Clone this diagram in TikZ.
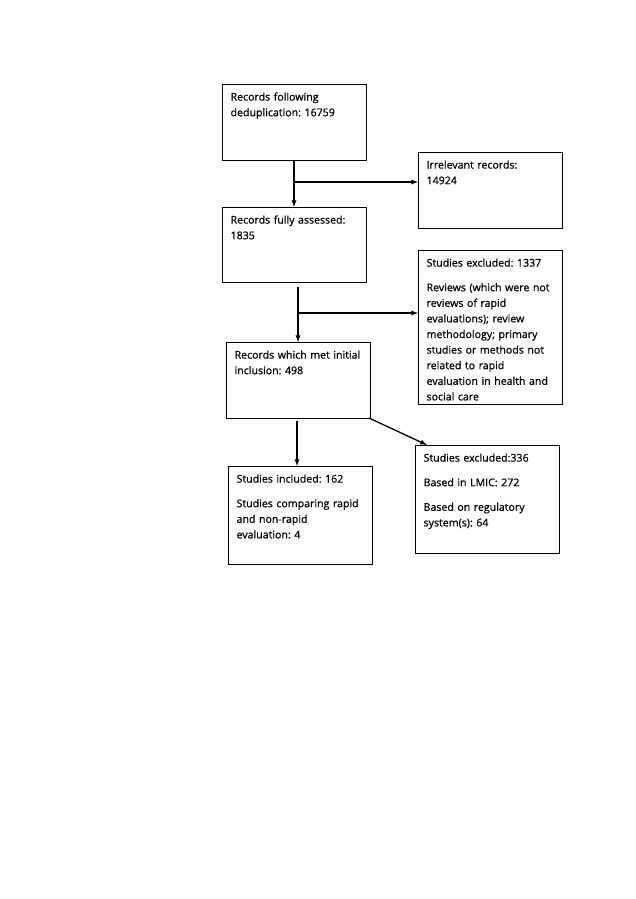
\documentclass[tikz,border=0pt]{standalone}
\usepackage{fontspec}
\setmainfont{Open Sans}[FakeBold=0.8]
\usepackage{tikz}
\frenchspacing

\begin{document}
\begin{tikzpicture}[x=1pt, y=-1pt,
  box/.style={draw, line width=1.2pt, anchor=north west, align=left, text width=128pt,
    inner xsep=8pt, inner ysep=8pt, text height=8pt, text depth=#1,
    font=\fontsize{10.6}{15.6}\selectfont},
  arr/.style={line width=1.3pt, -latex}]

\useasboundingbox (0,0) rectangle (636,899);

\node (rec) [box=52pt] at (222,84) {Records following\\deduplication: 16759};
\node (irr) [box=52pt] at (418,152) {Irrelevant records:\\14924};
\node (full) [box=51pt] at (222,207) {Records fully assessed:\\1835};
\node (exA) [box=130pt] at (418,250) {Studies excluded: 1337\\[9pt]
  Reviews (which were not\\reviews of rapid\\evaluations); review\\methodology; primary\\
  studies or methods not\\related to rapid\\evaluation in health and\\social care};
\node (init) [box=52pt] at (226,342) {Records which met initial\\inclusion: 498};
\node (inc) [box=74pt] at (228,466) {Studies included: 162\\[9pt]
  Studies comparing rapid\\and non-rapid\\evaluation: 4};
\node (exB) [box=84pt] at (415,445) {Studies excluded:336\\[9pt]
  Based in LMIC: 272\\[9pt]Based on regulatory\\system(s): 64};

\coordinate (s1) at (294,182);
\coordinate (s2) at (298,313);
\coordinate (t2) at (298,287);
\coordinate (t3) at (297,421);
\coordinate (c5) at (369,418);

\draw [arr] (rec.south -| s1) -- (full.north -| s1);
\draw [arr] (s1) -- (irr.west |- s1);
\draw [arr] (t2) -- (init.north -| t2);
\draw [arr] (s2) -- (exA.west |- s2);
\draw [arr] (t3) -- (inc.north -| t3);
\draw [arr] (c5) -- ([xshift=12pt]exB.north west);

\end{tikzpicture}
\end{document}
